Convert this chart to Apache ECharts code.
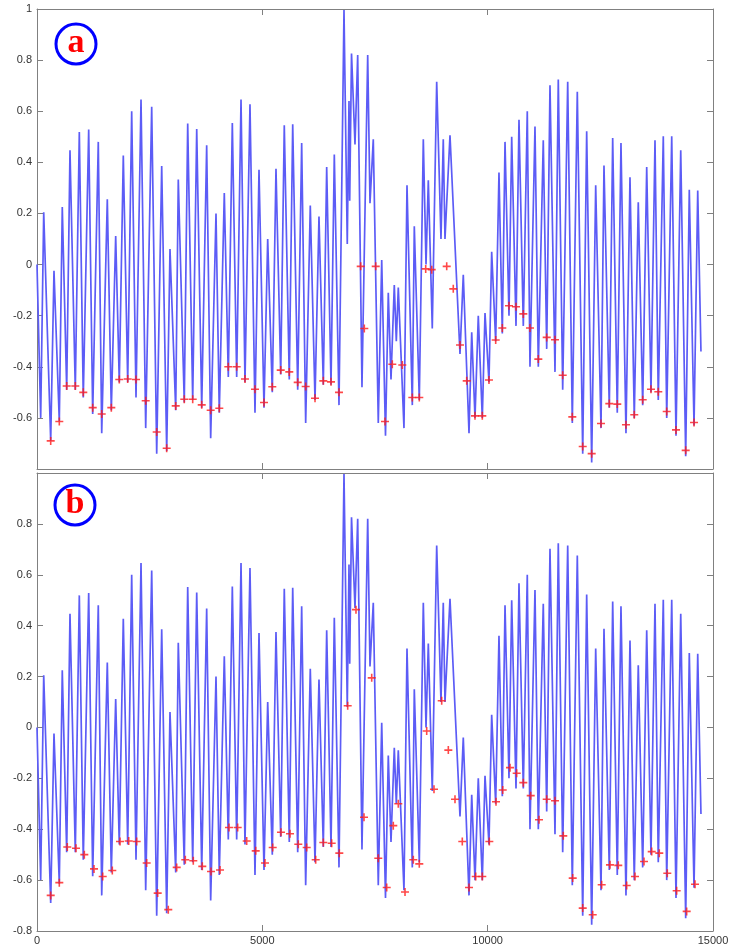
<!DOCTYPE html>
<html>
<head>
<meta charset="utf-8">
<script src="https://cdn.jsdelivr.net/npm/echarts@6/dist/echarts.min.js"></script>
<style>html,body{margin:0;padding:0;background:#fff;}#c{width:739px;height:946px;}</style>
</head>
<body>
<div id="c"></div>
<script>
// ---- waveform (sample index / amplitude) ----
const startPoint = [0, 0];
const endPoint = [14733, -0.34];
const lowS = [82,304,495,659,850,1027,1236,1436,1649,1826,2013,2197,2412,2656,2878,3078,3268,3455,3655,3854,4045,4245,4431,4615,4837,5037,5221,5408,5598,5785,5962,6169,6353,6524,6701,
  6885,6939,7056,7211,7389,7573,7733,7855,7973,8143,8328,8483,8632,8771,8964,9053,
  9386,9586,9719,9881,10029,10178,10325,10473,10629,10791,10939,11124,
  11310,11494,11665,11878,12109,12308,12515,12699,12876,13069,13253,13440,13624,13786,13973,14179,14394,14579];
const lowV = [-0.6,-0.69,-0.614,-0.49,-0.49,-0.52,-0.585,-0.66,-0.57,-0.46,-0.46,-0.52,-0.64,-0.74,-0.73,-0.57,-0.54,-0.53,-0.56,-0.68,-0.58,-0.44,-0.44,-0.46,-0.58,-0.56,-0.5,-0.43,-0.45,-0.49,-0.62,-0.53,-0.47,-0.47,-0.55,
  0.08,0.25,0.47,-0.48,0.24,-0.62,-0.67,-0.45,-0.3,-0.64,-0.55,-0.53,0.0,-0.25,0.1,0.1,
  -0.35,-0.66,-0.6,-0.6,-0.46,-0.3,-0.27,-0.2,-0.24,-0.24,-0.4,-0.4,
  -0.33,-0.42,-0.49,-0.62,-0.74,-0.775,-0.64,-0.56,-0.58,-0.66,-0.6,-0.55,-0.5,-0.53,-0.6,-0.67,-0.75,-0.63];
const highS = [149,377,561,732,939,1147,1360,1560,1746,1915,2101,2308,2545,2767,2951,3135,3344,3544,3765,3972,4156,4334,4527,4726,4926,5119,5303,5487,5674,5873,6064,6257,6428,6597,6812,
  6923,6979,7116,7338,7462,7649,7795,7928,8017,8210,8372,8572,8683,8869,9015,9164,
  9459,9646,9792,9941,10089,10251,10385,10533,10695,10879,11050,11234,
  11383,11567,11776,11989,12197,12397,12581,12774,12958,13158,13342,13529,13713,13897,14084,14284,14474,14661];
const highV = [0.205,-0.024,0.225,0.447,0.519,0.528,0.48,0.255,0.112,0.427,0.6,0.646,0.617,0.386,0.061,0.333,0.552,0.53,0.467,0.2,0.28,0.554,0.646,0.627,0.371,0.1,0.375,0.545,0.549,0.476,0.231,0.188,0.382,0.431,0.996,
  0.64,0.826,0.82,0.82,0.49,0.018,-0.11,-0.08,-0.09,0.31,0.15,0.49,0.33,0.715,0.49,0.506,
  -0.04,-0.265,-0.2,-0.19,0.05,0.36,0.48,0.5,0.567,0.6,0.54,0.486,
  0.702,0.724,0.715,0.676,0.522,0.31,0.388,0.495,0.476,0.342,0.244,0.382,0.486,0.502,0.502,0.447,0.293,0.29];

// ---- detected instants (red +), panel a ----
const markAS = [304,495,659,850,1027,1236,1436,1649,1826,2013,2197,2412,2656,2878,3078,3268,3455,3655,3854,4045,4245,4431,4615,4837,5037,5221,5408,5598,5785,5962,6169,6353,6524,6701,
  7183,7263,7516,7722,7884,8106,8328,8483,8625,8758,9091,9237,
  9386,9535,9719,9881,10029,10178,10325,10473,10629,10791,10939,11124,
  11310,11494,11665,11878,12109,12308,12515,12699,12876,13069,13253,13440,13624,13786,13973,14179,14394,14579];
const markAV = [-0.69,-0.614,-0.475,-0.475,-0.5,-0.56,-0.585,-0.56,-0.45,-0.448,-0.45,-0.533,-0.655,-0.719,-0.553,-0.527,-0.527,-0.549,-0.57,-0.562,-0.4,-0.4,-0.448,-0.488,-0.54,-0.478,-0.413,-0.42,-0.461,-0.477,-0.523,-0.455,-0.459,-0.5,
  -0.007,-0.25,-0.007,-0.614,-0.39,-0.393,-0.52,-0.52,-0.017,-0.02,-0.007,-0.095,
  -0.315,-0.455,-0.592,-0.592,-0.452,-0.295,-0.248,-0.161,-0.165,-0.193,-0.248,-0.37,
  -0.285,-0.294,-0.433,-0.596,-0.712,-0.74,-0.622,-0.544,-0.546,-0.627,-0.588,-0.529,-0.488,-0.498,-0.575,-0.647,-0.727,-0.618];
// ---- detected instants (red +), panel b ----
const markBS = [304,495,672,865,1050,1265,1458,1671,1842,2035,2212,2434,2678,2913,3100,3291,3468,
  3668,3861,4061,4260,4453,4653,4853,5059,5230,5414,5614,5798,5984,6184,6353,6539,6708,6894,7078,7256,
  7427,7573,7760,7906,8017,8166,8350,8483,8647,8809,8980,9127,9275,9437,9586,9735,9881,10037,10185,10334,10496,10644,10791,10955,11139,
  11310,11494,11678,11887,12109,12331,12530,12714,12898,13085,13269,13469,13640,13808,13986,14194,14416,14601];
const markBV = [-0.66,-0.61,-0.47,-0.475,-0.5,-0.556,-0.586,-0.562,-0.448,-0.446,-0.448,-0.533,-0.651,-0.716,-0.55,-0.52,-0.524,
  -0.546,-0.566,-0.56,-0.393,-0.393,-0.446,-0.485,-0.533,-0.472,-0.412,-0.418,-0.459,-0.472,-0.52,-0.452,-0.455,-0.494,0.085,0.463,-0.353,
  0.195,-0.514,-0.629,-0.386,-0.3,-0.647,-0.52,-0.536,-0.014,-0.243,0.105,-0.089,-0.282,-0.448,-0.629,-0.586,-0.586,-0.448,-0.292,-0.246,-0.158,-0.18,-0.217,-0.268,-0.363,
  -0.282,-0.288,-0.426,-0.592,-0.71,-0.736,-0.618,-0.54,-0.542,-0.621,-0.586,-0.527,-0.488,-0.494,-0.573,-0.642,-0.723,-0.616];

const xTicks = {min: 0, max: 15000, interval: 5000};
const yTicks = {min: -0.8, max: 1, interval: 0.2};
const panelLabels = ['a', 'b'];

// ---- build polyline: each read peak is held briefly (flat pulse top) ----
const topHold = 40; // samples
const wave = [startPoint];
for (let i = 0; i < lowS.length; i++) {
  wave.push([lowS[i], lowV[i]]);
  wave.push([highS[i], highV[i]]);
  const next = i + 1 < lowS.length ? lowS[i + 1] : endPoint[0];
  wave.push([Math.min(highS[i] + topHold, (highS[i] + next) / 2), highV[i]]);
}
wave.push(endPoint);
const zip = (a, b) => a.map((v, i) => [v, b[i]]);

const chart = echarts.init(document.getElementById('c'), null, {renderer: 'canvas'});
const axisColor = '#808080';
const labelStyle = {color: '#333', fontFamily: 'Liberation Sans, Arial, sans-serif', fontSize: 11};
const grids = [
  {left: 37, top: 9, width: 676, height: 460},
  {left: 37, top: 473, width: 676, height: 458}
];
const fmtY = (hide) => (v) => { const r = Math.round(v * 10) / 10; return r === hide ? '' : String(r); };
const fmtX = (v) => String(Math.round(v));

const xAxis = [], yAxis = [];
[0, 1].forEach(g => {
  xAxis.push({type: 'value', gridIndex: g, position: 'bottom', ...xTicks,
    axisLine: {show: true, onZero: false, lineStyle: {color: axisColor}},
    axisTick: {show: true, inside: true, length: 6, lineStyle: {color: axisColor}},
    axisLabel: {show: g === 1, margin: 4, formatter: fmtX, ...labelStyle}, splitLine: {show: false}});
  xAxis.push({type: 'value', gridIndex: g, position: 'top', ...xTicks,
    axisLine: {show: true, onZero: false, lineStyle: {color: axisColor}},
    axisTick: {show: true, inside: true, length: 6, lineStyle: {color: axisColor}},
    axisLabel: {show: false}, splitLine: {show: false}});
  yAxis.push({type: 'value', gridIndex: g, position: 'left', ...yTicks,
    axisLine: {show: true, onZero: false, lineStyle: {color: axisColor}},
    axisTick: {show: true, inside: true, length: 6, lineStyle: {color: axisColor}},
    axisLabel: {show: true, margin: 5, formatter: fmtY(g === 0 ? -0.8 : 1), ...labelStyle}, splitLine: {show: false}});
  yAxis.push({type: 'value', gridIndex: g, position: 'right', ...yTicks,
    axisLine: {show: true, onZero: false, lineStyle: {color: axisColor}},
    axisTick: {show: true, inside: true, length: 6, lineStyle: {color: axisColor}},
    axisLabel: {show: false}, splitLine: {show: false}});
});

const plus = 'path://M4,0L6,0L6,4L10,4L10,6L6,6L6,10L4,10L4,6L0,6L0,4L4,4Z';
const series = [];
[0, 1].forEach(g => {
  series.push({type: 'line', xAxisIndex: g * 2, yAxisIndex: g * 2, data: wave, showSymbol: false,
    lineStyle: {color: '#5c5cf6', width: 1.7}, silent: true, z: 2});
  series.push({type: 'scatter', xAxisIndex: g * 2, yAxisIndex: g * 2,
    data: g === 0 ? zip(markAS, markAV) : zip(markBS, markBV),
    symbol: plus, symbolSize: 8, itemStyle: {color: '#ff1a1a'}, z: 3});
});

const badgeCenters = [[76, 44], [75, 505]];
const graphic = [];
badgeCenters.forEach((c, i) => {
  graphic.push({type: 'circle', shape: {cx: c[0], cy: c[1], r: 20}, style: {fill: '#fff', stroke: '#0000ff', lineWidth: 3}, z: 10});
  graphic.push({type: 'text', x: c[0], y: c[1] - 1, style: {text: panelLabels[i], fill: '#ff0000', font: 'bold 34px "Liberation Serif", serif', align: 'center', verticalAlign: 'middle', textAlign: 'center', textVerticalAlign: 'middle'}, z: 11});
});

chart.setOption({animation: false, backgroundColor: '#fff', grid: grids, xAxis, yAxis, series, graphic});
</script>
</body>
</html>
